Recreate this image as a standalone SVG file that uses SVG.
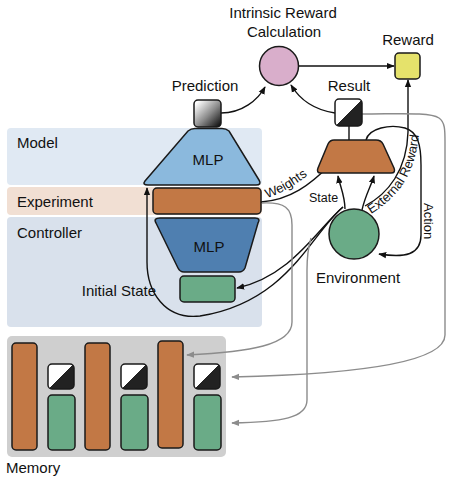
<svg xmlns="http://www.w3.org/2000/svg" width="472" height="482" viewBox="0 0 472 482">
<style>
text{font-family:"Liberation Sans",Arial,sans-serif;fill:#111;}
.lbl{font-size:15px;}
.sm{font-size:12.5px;}
.md{font-size:13px;}
.shape{stroke:#1a1a1a;stroke-width:1.5;}
.orange{fill:#c27845;}
.green{fill:#6aab87;}
.split{fill:url(#splitGrad);}
.conn{fill:none;stroke:#111;stroke-width:1.4;}
.gconn{fill:none;stroke:#8c8c8c;stroke-width:1.4;}
</style>
<defs>
<marker id="ah" viewBox="0 0 10 10" refX="9" refY="5" markerWidth="8" markerHeight="8" markerUnits="userSpaceOnUse" orient="auto"><path d="M0,1 L10,5 L0,9 z" fill="#111"/></marker>
<marker id="gah" viewBox="0 0 10 10" refX="9" refY="5" markerWidth="8" markerHeight="8" markerUnits="userSpaceOnUse" orient="auto"><path d="M0,1 L10,5 L0,9 z" fill="#8c8c8c"/></marker>
<linearGradient id="splitGrad" x1="0" y1="0" x2="1" y2="1"><stop offset="0.5" stop-color="#ffffff"/><stop offset="0.5" stop-color="#222222"/></linearGradient>
<linearGradient id="predGrad" x1="0" y1="0" x2="1" y2="1"><stop offset="0.1" stop-color="#ffffff"/><stop offset="0.55" stop-color="#8a8a8a"/><stop offset="0.95" stop-color="#111111"/></linearGradient>
<path id="wPath" d="M 267,198 C 283,193 299,183 320,166"/>
<path id="erPath" d="M 371,214 C 396,198 419,176 420,118"/>
</defs>

<g id="panels">
<rect id="model-panel" x="7" y="128" width="255" height="57" rx="4" fill="#e0e9f3"/>
<rect id="experiment-panel" x="7" y="187" width="255" height="28" rx="4" fill="#f1dfd3"/>
<rect id="controller-panel" x="7" y="217" width="255" height="110" rx="4" fill="#d9e1ec"/>
<rect id="memory-panel" x="7" y="336" width="219" height="121" rx="5" fill="#cfcfcf"/>
<text class="lbl" x="17" y="148">Model</text>
<text class="lbl" x="17" y="207">Experiment</text>
<text class="lbl" x="17" y="238">Controller</text>
<text class="lbl" x="6" y="473">Memory</text>
</g>

<g id="connectors">
<path class="conn" d="M 221,113 C 242,113 258,100 265,87" marker-end="url(#ah)"/>
<path class="conn" d="M 335,113 C 315,110 300,100 291,85" marker-end="url(#ah)"/>
<path class="conn" d="M 298,66 L 394,66" marker-end="url(#ah)"/>
<path class="conn" d="M 349,126 L 349,140"/>
<path class="conn" d="M 261,202 C 290,200 310,185 331,164" marker-end="url(#ah)"/>
<path class="conn" d="M 345,209 C 345,196 340,186 338,176" marker-end="url(#ah)"/>
<path class="conn" d="M 362,210 C 365,196 371,186 374,176" marker-end="url(#ah)"/>
<path class="conn" d="M 343,207 C 318,228 292,276 237,288" marker-end="url(#ah)"/>
<path class="conn" d="M 343,207 C 310,235 288,302 200,316 C 165,320 147,292 147,262 L 147,188" marker-end="url(#ah)"/>
<path class="conn" d="M 365,206 C 388,194 407,170 408,132 L 408,80" marker-end="url(#ah)"/>
<path class="conn" d="M 366,140 C 369,128 390,124 405,128 C 418,132 421,145 421,165 L 421,235 C 421,255 405,258 379,254" marker-end="url(#ah)"/>
<path class="gconn" d="M 262,203 C 285,202 292,208 292,225 L 292,322 C 292,345 250,352 187,355" marker-end="url(#gah)"/>
<path class="gconn" d="M 362,114 C 400,114 430,112 439,118 C 445,122 445,130 445,142 L 445,335 C 445,368 320,375 232,377" marker-end="url(#gah)"/>
<path class="gconn" d="M 311,238 C 308,248 307,258 307,270 L 307,400 C 307,418 282,422 232,423" marker-end="url(#gah)"/>
<text class="md"><textPath href="#wPath">Weights</textPath></text>
<text class="sm" x="309" y="202">State</text>
<text class="md"><textPath href="#erPath">External Reward</textPath></text>
<text class="md" transform="translate(424,203) rotate(90)">Action</text>
</g>

<g id="intrinsic-reward">
<circle cx="279" cy="66" r="19.5" fill="#d9aecb" class="shape"/>
<text class="lbl" x="283" y="18" text-anchor="middle">Intrinsic Reward</text>
<text class="lbl" x="284" y="37" text-anchor="middle">Calculation</text>
</g>

<g id="reward">
<rect x="395" y="53" width="25" height="26" rx="4" fill="#e5e26b" class="shape"/>
<text class="lbl" x="408" y="45" text-anchor="middle">Reward</text>
</g>

<g id="prediction">
<rect x="194" y="100" width="27" height="27" rx="4" fill="url(#predGrad)" class="shape"/>
<text class="lbl" x="205" y="91" text-anchor="middle">Prediction</text>
</g>

<g id="result">
<rect x="335" y="99" width="27" height="27" rx="4" class="shape split"/>
<text class="lbl" x="349" y="91" text-anchor="middle">Result</text>
</g>

<g id="model-mlp">
<path class="shape" fill="#8bb9dd" d="M 148,185 Q 142,185 145,181 L 188,131 Q 191,128.5 195,128.5 L 222,128.5 Q 226,128.5 229,131 L 259,180 Q 262,185 256,185 Z"/>
<text class="lbl" x="208" y="165" text-anchor="middle">MLP</text>
</g>

<g id="experiment">
<rect x="153" y="188" width="108" height="26" rx="4" class="shape orange"/>
</g>

<g id="controller-mlp">
<path class="shape" fill="#4f7fb0" d="M 160,218 L 255,218 Q 261,218 258,223 L 245,268 Q 243,272 239,272 L 184,272 Q 180,272 178,268 L 156,223 Q 153,218 160,218 Z"/>
<text class="lbl" x="209" y="252" text-anchor="middle">MLP</text>
</g>

<g id="initial-state">
<rect x="180" y="276" width="55" height="26" rx="4" class="shape green"/>
<text class="lbl" x="156" y="296" text-anchor="end">Initial State</text>
</g>

<g id="executor">
<path class="shape orange" d="M 334,140 L 376,140 Q 381,140 383,144 L 394,168 Q 396,173 391,173 L 321,173 Q 316,173 318,168 L 328,144 Q 330,140 334,140 Z"/>
</g>

<g id="environment">
<circle cx="354" cy="234" r="25" class="shape green"/>
<text class="lbl" x="358" y="283" text-anchor="middle">Environment</text>
</g>

<g id="memory">
<rect x="12" y="343" width="25" height="107" rx="4" class="shape orange"/>
<rect x="48" y="364" width="26" height="25" rx="4" class="shape split"/>
<rect x="48" y="395" width="27" height="55" rx="4" class="shape green"/>
<rect x="85" y="343" width="25" height="107" rx="4" class="shape orange"/>
<rect x="121" y="364" width="26" height="25" rx="4" class="shape split"/>
<rect x="121" y="395" width="27" height="55" rx="4" class="shape green"/>
<rect x="158" y="341" width="25" height="107" rx="4" class="shape orange"/>
<rect x="194" y="364" width="26" height="25" rx="4" class="shape split"/>
<rect x="194" y="395" width="27" height="55" rx="4" class="shape green"/>
</g>
</svg>
